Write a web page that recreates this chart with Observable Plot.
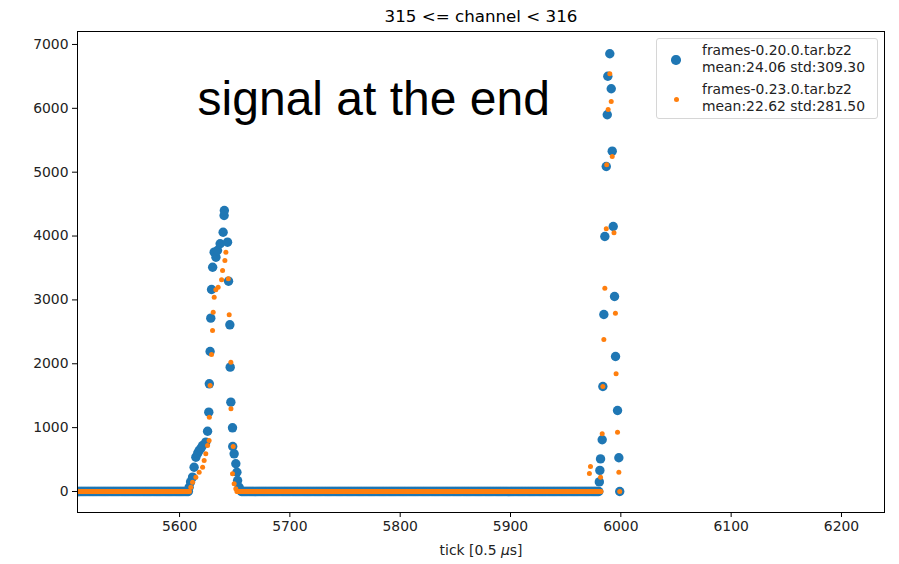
<!DOCTYPE html>
<html>
<head>
<meta charset="utf-8">
<script src="https://cdn.jsdelivr.net/npm/d3@7"></script>
<script src="https://cdn.jsdelivr.net/npm/@observablehq/plot@0.6"></script>
<style>
  html, body { margin: 0; padding: 0; background: #fff; }
  #wrap { position: relative; width: 899px; height: 564px; font-family: "DejaVu Sans", sans-serif; }
  #legend {
    position: absolute; left: 656px; top: 38px; width: 222px; height: 81px;
    box-sizing: border-box; border: 1px solid #d6d6d6; border-radius: 3px;
    background: rgba(255,255,255,0.8); font-size: 13.9px; color: #222;
  }
  .entry { position: absolute; left: 45px; line-height: 17px; white-space: nowrap; }
  .swatch { position: absolute; border-radius: 50%; }
</style>
</head>
<body>
<div id="wrap">
  <div id="chart"></div>
  <div id="legend"></div>
</div>
<script>
// Channel 315: ADC value per tick for two frame archives.
const seriesNames = ["frames-0.20.0.tar.bz2", "frames-0.23.0.tar.bz2"];
const seriesStats = ["mean:24.06 std:309.30", "mean:22.62 std:281.50"];
const seriesColors = ["#1f77b4", "#ff7f0e"];

// Flat runs where the channel reads exactly 0, as [firstTick, lastTick].
const zeroRunsA = [[5500, 5608], [5656, 5980]];
const zeroRunsB = [[5500, 5609], [5652, 5982]];

// Non-zero samples: first pulse (ticks) and values.
const pulse1TicksA = [5608.7, 5610, 5611.8, 5613.2, 5614.8, 5616.5, 5617.8, 5619.5, 5620.9, 5623.8, 5625.4, 5626.5, 5627, 5627.7, 5628.3, 5629, 5630, 5631.4, 5633, 5634.4, 5636.8, 5639.5, 5640.4, 5640.6, 5643.5, 5644.4, 5645.6, 5645.9, 5646.5, 5648, 5648.2, 5649.5, 5651, 5652, 5652.6, 5654, 5655.5];
const pulse1ValuesA = [67, 150, 224, 380, 537, 600, 642, 680, 720, 772, 944, 1242, 1686, 2192, 2714, 3163, 3512, 3748, 3669, 3774, 3879, 4060, 4322, 4400, 3904, 3293, 2610, 1947, 1399, 997, 705, 590, 434, 302, 172, 67, 15];
const pulse1TicksB = [5610.2, 5611.8, 5614.8, 5617.8, 5620.9, 5622.3, 5623.8, 5625.4, 5626.8, 5627, 5627.7, 5629, 5629.9, 5630.5, 5631.4, 5632.9, 5635, 5638.1, 5639, 5641.1, 5642, 5644.2, 5645, 5646.5, 5646.6, 5648, 5648.6, 5649.5, 5651];
const pulse1ValuesB = [67, 146, 224, 302, 380, 485, 590, 720, 799, 1163, 1660, 2145, 2521, 2808, 3043, 3158, 3200, 3315, 3461, 3617, 3748, 3330, 2767, 2025, 1295, 277, 705, 120, 42];

// Second pulse at the end of the window.
const pulse2TicksA = [5980.5, 5981, 5981.6, 5983.1, 5983.7, 5984.6, 5985.5, 5986.8, 5987.7, 5988.2, 5990, 5991.3, 5992.2, 5993.1, 5994.3, 5995.2, 5997, 5998.2, 5999];
const pulse2ValuesA = [150, 330, 510, 810, 1644, 2772, 3993, 5089, 5899, 6503, 6854, 6306, 5329, 4150, 3054, 2114, 1268, 528, 0];
const pulse2TicksB = [5971.5, 5972.5, 5981.6, 5983.1, 5983.7, 5984.6, 5985.5, 5986.8, 5987.2, 5988.5, 5990, 5991.3, 5992.2, 5993.8, 5995.1, 5995.7, 5997, 5998.2, 5999];
const pulse2ValuesB = [280, 390, 224, 903, 1644, 2380, 3184, 4114, 5116, 5982, 6541, 6107, 5246, 4051, 2792, 1843, 929, 302, 0];

const xTicks = [5600, 5700, 5800, 5900, 6000, 6100, 6200];
const yTicks = [0, 1000, 2000, 3000, 4000, 5000, 6000, 7000];

function buildSeries(zeroRuns, pulses) {
  const rows = [];
  for (const [a, b] of zeroRuns) for (const t of d3.range(a, b + 1)) rows.push({tick: t, value: 0});
  for (const [ticks, values] of pulses) ticks.forEach((t, i) => rows.push({tick: t, value: values[i]}));
  return rows.sort((p, q) => p.tick - q.tick);
}
const dataA = buildSeries(zeroRunsA, [[pulse1TicksA, pulse1ValuesA], [pulse2TicksA, pulse2ValuesA]]);
const dataB = buildSeries(zeroRunsB, [[pulse1TicksB, pulse1ValuesB], [pulse2TicksB, pulse2ValuesB]]);

const chart = Plot.plot({
  width: 899,
  height: 564,
  marginLeft: 77,
  marginRight: 15,
  marginTop: 31,
  marginBottom: 52,
  style: {fontFamily: "DejaVu Sans, sans-serif", fontSize: "13.9px", color: "#222", background: "#fff"},
  x: {domain: [5507.5, 6239], ticks: xTicks, tickFormat: d => String(d), label: null},
  y: {domain: [-329, 7203], ticks: yTicks, tickFormat: d => String(d), label: null},
  marks: [
    Plot.axisX({ticks: xTicks, tickFormat: d => String(d), tickSize: 5, tickPadding: 4, label: null, stroke: "#000", fontSize: 13.9}),
    Plot.axisY({ticks: yTicks, tickFormat: d => String(d), tickSize: 5, tickPadding: 4, label: null, stroke: "#000", fontSize: 13.9}),
    Plot.dot(dataA, {x: "tick", y: "value", r: 4.7, fill: seriesColors[0], clip: true}),
    Plot.dot(dataB, {x: "tick", y: "value", r: 2.5, fill: seriesColors[1], clip: true}),
    Plot.frame({stroke: "#000", strokeWidth: 1}),
    Plot.text(["315 <= channel < 316"], {frameAnchor: "top", dy: -15, fontSize: 16.7, fill: "#000", lineAnchor: "middle"}),
    Plot.text(["tick [0.5 μs]"], {frameAnchor: "bottom", dy: 38, fontSize: 13.9, fill: "#222", lineAnchor: "middle", className: "xlabel"}),
    Plot.text(["signal at the end"], {x: 5776, y: 6130, fontSize: 48, fontFamily: "Liberation Sans, Arial, sans-serif", fill: "#000", lineAnchor: "middle"})
  ]
});
document.getElementById("chart").appendChild(chart);

// italic mu in the x label
const xl = chart.querySelector(".xlabel text");
if (xl) xl.innerHTML = 'tick [0.5 <tspan font-style="italic">μ</tspan>s]';

// Legend inside the axes, upper right
const legend = document.getElementById("legend");
const swatchR = [4.7, 2.5];
const rowTop = [3, 42];
seriesNames.forEach((name, i) => {
  const e = document.createElement("div");
  e.className = "entry";
  e.style.top = rowTop[i] + "px";
  const l1 = document.createElement("div"); l1.textContent = name;
  const l2 = document.createElement("div"); l2.textContent = seriesStats[i];
  e.appendChild(l1); e.appendChild(l2);
  legend.appendChild(e);
  const s = document.createElement("div");
  s.className = "swatch";
  const r = swatchR[i];
  s.style.width = s.style.height = (2 * r) + "px";
  s.style.left = (19 - r) + "px";
  s.style.top = (rowTop[i] + 18 - r) + "px";
  s.style.background = seriesColors[i];
  legend.appendChild(s);
});
</script>
</body>
</html>
